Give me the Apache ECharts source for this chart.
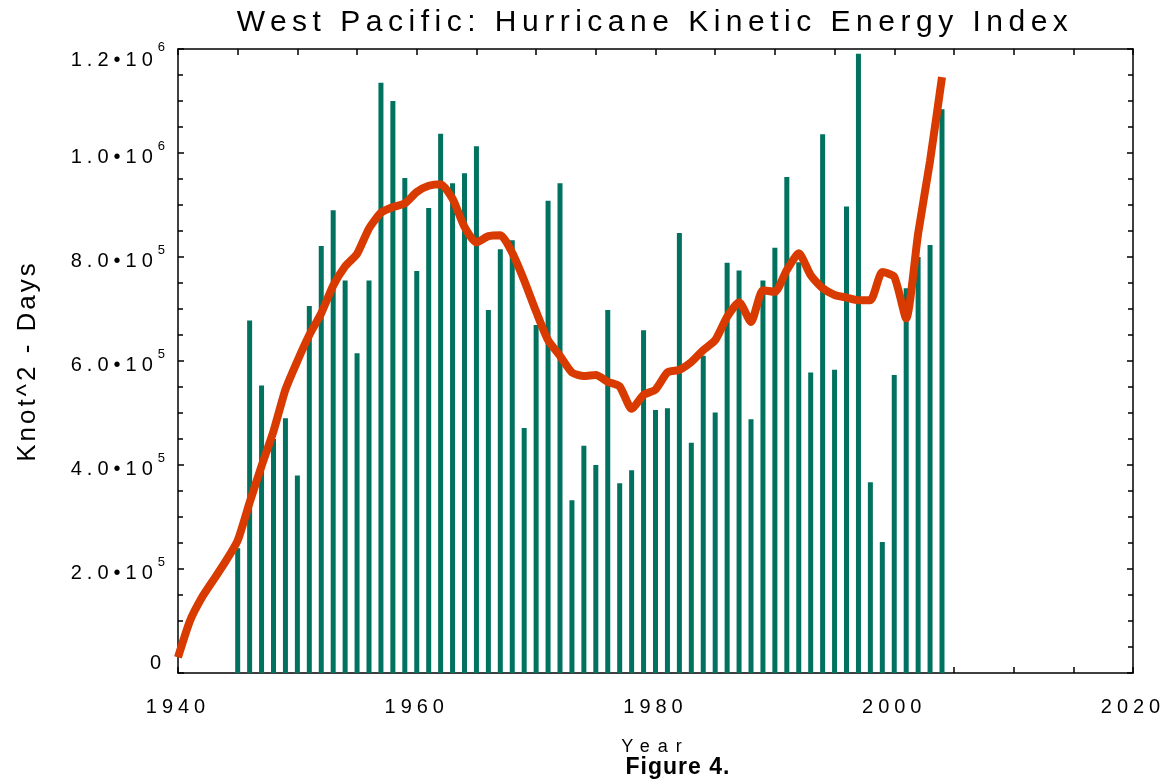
<!DOCTYPE html>
<html>
<head>
<meta charset="utf-8">
<script src="https://cdn.jsdelivr.net/npm/echarts@6/dist/echarts.min.js"></script>
<style>
html,body{margin:0;padding:0;background:#fff;}
#main{width:1172px;height:784px;}
</style>
</head>
<body>
<div id="main"></div>
<script>
// ---- data ----
const barYears = [1945,1946,1947,1948,1949,1950,1951,1952,1953,1954,1955,1956,1957,1958,1959,1960,1961,1962,1963,1964,1965,1966,1967,1968,1969,1970,1971,1972,1973,1974,1975,1976,1977,1978,1979,1980,1981,1982,1983,1984,1985,1986,1987,1988,1989,1990,1991,1992,1993,1994,1995,1996,1997,1998,1999,2000,2001,2002,2003,2004];
const barValues = [240000,678000,553000,450000,490000,380000,706000,821000,890000,755000,615000,755000,1135000,1100000,952000,773000,894000,1037000,942000,961000,1013000,698000,815000,832000,471000,669000,908000,942000,332000,437000,400000,698000,365000,390000,659000,506000,509000,846000,443000,610000,501000,789000,774000,488000,755000,818000,954000,790000,578000,1036000,583000,897000,1191000,367000,252000,573000,740000,800000,823000,1084000];
const lineYears = [1940,1941,1942,1943,1944,1945,1946,1947,1948,1949,1950,1951,1952,1953,1954,1955,1956,1957,1958,1959,1960,1961,1962,1963,1964,1965,1966,1967,1968,1969,1970,1971,1972,1973,1974,1975,1976,1977,1978,1979,1980,1981,1982,1983,1984,1985,1986,1987,1988,1989,1990,1991,1992,1993,1994,1995,1996,1997,1998,1999,2000,2001,2002,2003,2004];
const lineValues = [30000,100000,145000,180000,215000,255000,328000,398000,465000,545000,600000,650000,692000,745000,782000,806000,855000,885000,896000,903000,925000,937000,940000,912000,858000,828000,840000,842000,808000,755000,695000,640000,610000,578000,571000,573000,560000,551000,508000,535000,545000,578000,583000,598000,621000,640000,685000,713000,675000,736000,733000,775000,807000,765000,740000,727000,722000,717000,717000,771000,762000,682000,845000,985000,1146000];
const xTicks = [1940, 1960, 1980, 2000, 2020];
const yTicks = [0, 200000, 400000, 600000, 800000, 1000000, 1200000];

// ---- letter spacing per font size (mimics the wide-spaced original lettering) ----
(function(){
  const spacing = {30: 5.5, 20: 5, 13: 1, 18: 8, 26: 3, 23: 1};
  const proto = CanvasRenderingContext2D.prototype;
  const desc = Object.getOwnPropertyDescriptor(proto, 'font');
  if (!desc || !('letterSpacing' in proto)) return;
  Object.defineProperty(proto, 'font', {
    configurable: true,
    get() { return desc.get.call(this); },
    set(v) {
      desc.set.call(this, v);
      const m = /(\d+(?:\.\d+)?)px/.exec(v);
      const s = m ? (spacing[Math.round(parseFloat(m[1]))] || 0) : 0;
      this.letterSpacing = s + 'px';
    }
  });
})();

const FONT = 'Liberation Sans';
const Y_MAX = yTicks[yTicks.length - 1];
function yFmt(v) {
  if (v === 0) return '{z|0}';
  const e = Math.floor(Math.log10(v) + 1e-9);
  const m = v / Math.pow(10, e);
  const top = v === Y_MAX;
  return '{' + (top ? 'mt' : 'm') + '|' + m.toFixed(1) + '\u202210}{' + (top ? 'et' : 'e') + '|' + e + '}';
}

const chart = echarts.init(document.getElementById('main'));
const axisLineStyle = {color: '#000', width: 1.5};
const tickStyle = {color: '#000', width: 1.5};
chart.setOption({
  animation: false,
  backgroundColor: '#fff',
  title: [
    {text: 'West Pacific: Hurricane Kinetic Energy Index', left: 655, top: 5, textAlign: 'center', padding: 0,
     textStyle: {fontFamily: FONT, fontSize: 30, fontWeight: 'normal', color: '#000'}},
    {text: 'Figure 4.', left: 678, top: 756, textAlign: 'center', padding: 0,
     textStyle: {fontFamily: FONT, fontSize: 23, fontWeight: 'bold', color: '#000'}}
  ],
  grid: {left: 178, top: 49, width: 955, height: 624, containLabel: false},
  xAxis: [
    {type: 'value', min: xTicks[0], max: xTicks[xTicks.length - 1], interval: 20,
     name: 'Year', nameLocation: 'middle', nameGap: 61,
     nameTextStyle: {fontFamily: FONT, fontSize: 18, color: '#000'},
     axisLine: {show: true, lineStyle: axisLineStyle},
     axisTick: {show: true, inside: true, length: 6, lineStyle: tickStyle},
     minorTick: {show: true, splitNumber: 4, length: 6, lineStyle: tickStyle},
     splitLine: {show: false},
     axisLabel: {margin: 22, fontFamily: FONT, fontSize: 20, color: '#000', formatter: v => String(v)}},
    {type: 'value', position: 'top', min: xTicks[0], max: xTicks[xTicks.length - 1], interval: 20,
     axisLine: {show: true, onZero: false, lineStyle: axisLineStyle},
     axisTick: {show: true, inside: true, length: 6, lineStyle: tickStyle},
     minorTick: {show: true, splitNumber: 4, length: 6, lineStyle: tickStyle},
     splitLine: {show: false}, axisLabel: {show: false}}
  ],
  yAxis: [
    {type: 'value', min: yTicks[0], max: Y_MAX, interval: 200000,
     name: 'Knot^2 - Days', nameLocation: 'middle', nameGap: 136, nameRotate: 90,
     nameTextStyle: {fontFamily: FONT, fontSize: 26, color: '#000'},
     axisLine: {show: true, lineStyle: axisLineStyle},
     axisTick: {show: true, inside: true, length: 6, lineStyle: tickStyle},
     minorTick: {show: true, splitNumber: 4, length: 5, lineStyle: tickStyle},
     splitLine: {show: false},
     axisLabel: {margin: 12, color: '#000', formatter: yFmt,
       rich: {
         m: {fontFamily: FONT, fontSize: 20, lineHeight: 20, padding: [8, 0, 0, 0], color: '#000'},
         e: {fontFamily: FONT, fontSize: 13, lineHeight: 14, padding: [0, 0, 14, 0], color: '#000'},
         mt: {fontFamily: FONT, fontSize: 20, lineHeight: 20, padding: [22, 0, 0, 0], color: '#000'},
         et: {fontFamily: FONT, fontSize: 13, lineHeight: 14, padding: [12, 0, 16, 0], color: '#000'},
         z: {fontFamily: FONT, fontSize: 20, lineHeight: 20, padding: [0, 0, 20, 0], color: '#000'}
       }}},
    {type: 'value', position: 'right', min: yTicks[0], max: Y_MAX, interval: 200000,
     axisLine: {show: true, onZero: false, lineStyle: axisLineStyle},
     axisTick: {show: true, inside: true, length: 6, lineStyle: tickStyle},
     minorTick: {show: true, splitNumber: 4, length: 5, lineStyle: tickStyle},
     splitLine: {show: false}, axisLabel: {show: false}}
  ],
  series: [
    {type: 'bar', xAxisIndex: 0, yAxisIndex: 0, barWidth: 5,
     itemStyle: {color: '#00725f'},
     data: barYears.map((y, i) => [y, barValues[i]])},
    {type: 'line', xAxisIndex: 0, yAxisIndex: 0, showSymbol: false, symbol: 'none', smooth: 0.2,
     lineStyle: {color: '#d83a00', width: 8},
     data: lineYears.map((y, i) => [y, lineValues[i]])}
  ]
});
</script>
</body>
</html>
